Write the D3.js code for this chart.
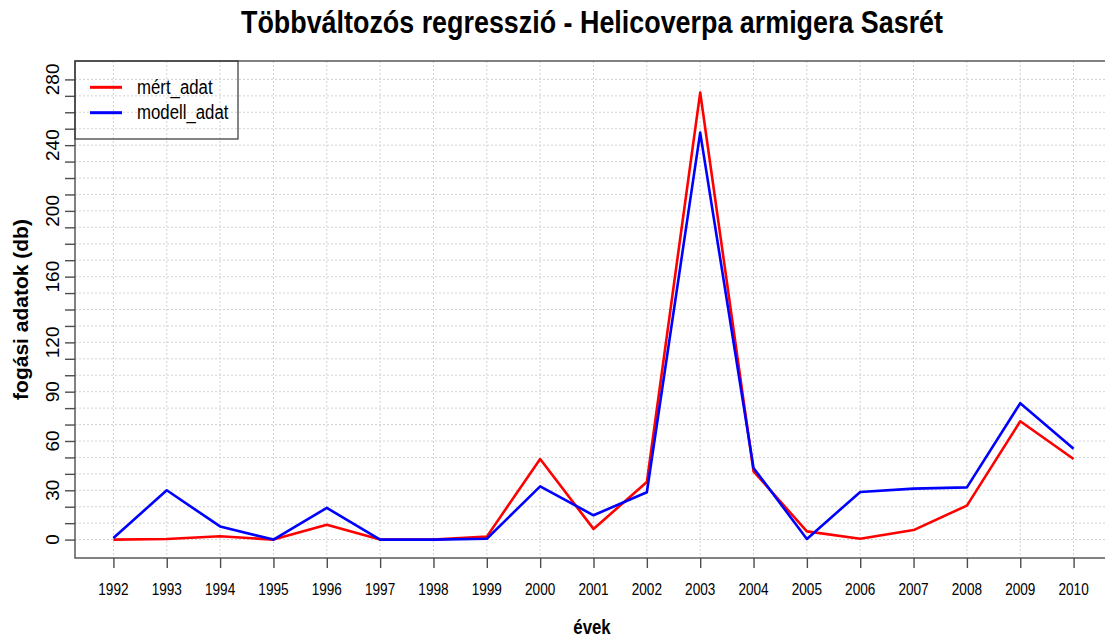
<!DOCTYPE html>
<html>
<head>
<meta charset="utf-8">
<script src="https://cdn.jsdelivr.net/npm/d3@7"></script>
<style>
  body { margin: 0; background: #fff; }
  text { font-family: "Liberation Sans", Arial, sans-serif; fill: #000; }
</style>
</head>
<body>
<svg id="chart" width="1105" height="639"></svg>
<script>
// data
const years = [1992, 1993, 1994, 1995, 1996, 1997, 1998, 1999, 2000, 2001,
               2002, 2003, 2004, 2005, 2006, 2007, 2008, 2009, 2010]
const mertAdat = [0, 0.4, 2, 0, 9, 0, 0, 1.8, 49, 6.5,
                  35, 272, 41.5, 5, 0.5, 5.8, 20.7, 72, 49]
const modellAdat = [1, 30, 8, 0, 19.3, 0, 0, 0.5, 32.4, 14.8,
                    28.8, 247.6, 43.6, 0.4, 29, 31, 31.8, 83, 55.3]
const yTickValues = d3.range(0, 281, 10)
const yLabelValues = [0, 30, 60, 90, 120, 160, 200, 240, 280]
const seriesNames = ["mért_adat", "modell_adat"]
const seriesColors = ["#ff0000", "#0000ff"]

const title = "Többváltozós regresszió - Helicoverpa armigera Sasrét"
const xTitle = "évek"
const yTitle = "fogási adatok (db)"

// R-ish look: horizontal text is a bit narrow
const NARROW = 0.8

const svg = d3.select("#chart")
const plot = {left: 75, right: 1112, top: 61, bottom: 558}

// ylim = c(0,280) with the usual 4% padding
const yPad = 280 * 0.04
const y = d3.scaleLinear()
    .domain([0 - yPad, 280 + yPad])
    .range([plot.bottom, plot.top])
const xPad = (years[years.length-1] - years[0]) * 0.04
const x = d3.scaleLinear()
    .domain([years[0] - xPad, years[years.length-1] + xPad])
    .range([plot.left, plot.right])

// grid
const grid = svg.append("g")
    .attr("stroke", "#d3d3d3")
    .attr("stroke-width", 1)
    .attr("stroke-dasharray", "2,2")
grid.selectAll("line.h").data(yTickValues).join("line")
    .attr("class", "h")
    .attr("x1", plot.left).attr("x2", plot.right)
    .attr("y1", d => y(d)).attr("y2", d => y(d))
grid.selectAll("line.v").data(years).join("line")
    .attr("class", "v")
    .attr("x1", d => x(d)).attr("x2", d => x(d))
    .attr("y1", plot.top).attr("y2", plot.bottom)

// series lines
const line = d3.line()
    .x((d, i) => x(years[i]))
    .y(d => y(d))
;[mertAdat, modellAdat].forEach((vals, k) => {
  svg.append("path")
      .datum(vals)
      .attr("fill", "none")
      .attr("stroke", seriesColors[k])
      .attr("stroke-width", 2.6)
      .attr("stroke-linejoin", "round")
      .attr("d", line)
})

// box
svg.append("rect")
    .attr("x", plot.left).attr("y", plot.top)
    .attr("width", plot.right - plot.left)
    .attr("height", plot.bottom - plot.top)
    .attr("fill", "none")
    .attr("stroke", "#4d4d4d")
    .attr("stroke-width", 1.4)

// y axis
const yAxis = svg.append("g")
    .attr("transform", "translate(" + plot.left + ",0)")
    .call(d3.axisLeft(y).tickValues(yTickValues).tickSize(10).tickFormat(""))
yAxis.select(".domain").remove()
yAxis.selectAll(".tick line").attr("stroke", "#4d4d4d").attr("stroke-width", 1.4)
svg.append("g").selectAll("text").data(yLabelValues).join("text")
    .attr("transform", d => "translate(59," + y(d) + ") rotate(-90)")
    .attr("text-anchor", "middle")
    .attr("font-size", 19)
    .text(d => d)

// x axis
const xAxis = svg.append("g")
    .attr("transform", "translate(0," + plot.bottom + ")")
    .call(d3.axisBottom(x).tickValues(years).tickSize(10).tickFormat(""))
xAxis.select(".domain").remove()
xAxis.selectAll(".tick line").attr("stroke", "#4d4d4d").attr("stroke-width", 1.4)
svg.append("g").selectAll("text").data(years).join("text")
    .attr("transform", d => "translate(" + x(d) + ",595) scale(" + NARROW + ",1)")
    .attr("text-anchor", "middle")
    .attr("font-size", 17)
    .text(d => d)

// titles
svg.append("text")
    .attr("transform", "translate(592,33) scale(0.84,1)")
    .attr("text-anchor", "middle")
    .attr("font-size", 32)
    .attr("font-weight", "bold")
    .text(title)
svg.append("text")
    .attr("transform", "translate(592,634) scale(" + NARROW + ",1)")
    .attr("text-anchor", "middle")
    .attr("font-size", 21)
    .attr("font-weight", "bold")
    .text(xTitle)
svg.append("text")
    .attr("transform", "translate(28," + (plot.top + plot.bottom) / 2 + ") rotate(-90)")
    .attr("text-anchor", "middle")
    .attr("font-size", 21)
    .attr("font-weight", "bold")
    .text(yTitle)

// legend (no fill, grid shows through like in R)
const legend = svg.append("g")
legend.append("rect")
    .attr("x", plot.left).attr("y", plot.top)
    .attr("width", 163).attr("height", 78)
    .attr("fill", "none")
    .attr("stroke", "#333")
    .attr("stroke-width", 1.2)
seriesNames.forEach((name, k) => {
  const ly = 87.3 + k * 25.4
  legend.append("line")
      .attr("x1", 90).attr("x2", 122)
      .attr("y1", ly).attr("y2", ly)
      .attr("stroke", seriesColors[k])
      .attr("stroke-width", 3)
  legend.append("text")
      .attr("transform", "translate(137," + (ly + 6.5) + ") scale(" + NARROW + ",1)")
      .attr("font-size", 21)
      .text(name)
})
</script>
</body>
</html>
